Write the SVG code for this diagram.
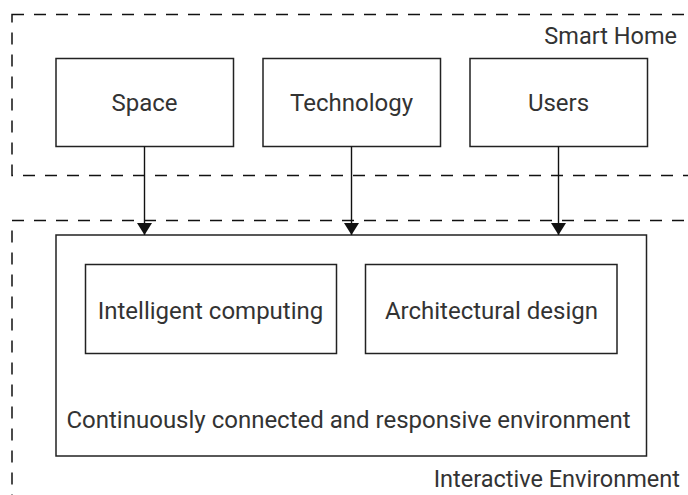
<svg xmlns="http://www.w3.org/2000/svg" width="688" height="495" viewBox="0 0 688 495">
<style>
.box{fill:#fff;stroke:#222;stroke-width:1.5}
.grp{fill:none;stroke:#111;stroke-width:1.5;stroke-dasharray:12 10}
.t{font-family:Roboto,"Liberation Sans",sans-serif;font-size:24px;fill:#333}
.g{font-size:23.5px}
.c{text-anchor:middle}
.r{text-anchor:end}
.edge{stroke:#111;stroke-width:1.4;fill:none;marker-end:url(#ah)}
</style>
<defs>
<marker id="ah" viewBox="0 0 12 15" refX="12" refY="7.5" markerWidth="12" markerHeight="15" markerUnits="userSpaceOnUse" orient="auto">
<path d="M0,0 L12,7.5 L0,15 Z" fill="#111"/>
</marker>
</defs>
<rect width="688" height="495" fill="#fff"/>
<g id="smart-home">
<rect class="grp" x="12" y="14.5" width="690" height="161"/>
<text class="t g r" x="677" y="44">Smart Home</text>
</g>
<g id="interactive-environment">
<rect class="grp" x="12" y="220.5" width="690" height="300"/>
<text class="t g r" x="680" y="487">Interactive Environment</text>
</g>
<g id="space">
<rect class="box" x="56" y="58.5" width="177.5" height="88"/>
<text class="t c" x="144.5" y="111">Space</text>
</g>
<g id="technology">
<rect class="box" x="263" y="58.5" width="177.5" height="88"/>
<text class="t c" x="351.5" y="111">Technology</text>
</g>
<g id="users">
<rect class="box" x="470" y="58.5" width="177.5" height="88"/>
<text class="t c" x="558.5" y="111">Users</text>
</g>
<g id="environment">
<rect class="box" x="56" y="235" width="590.5" height="221"/>
<text class="t c" x="348.5" y="428">Continuously connected and responsive environment</text>
</g>
<g id="intelligent-computing">
<rect class="box" x="85.5" y="264.5" width="251" height="89"/>
<text class="t c" x="210.5" y="319">Intelligent computing</text>
</g>
<g id="architectural-design">
<rect class="box" x="365.5" y="264.5" width="251.5" height="89"/>
<text class="t c" x="491.5" y="319">Architectural design</text>
</g>
<g id="connectors">
<path class="edge" d="M144.5,146.5 V235"/>
<path class="edge" d="M351.5,146.5 V235"/>
<path class="edge" d="M558.5,146.5 V235"/>
</g>
</svg>
